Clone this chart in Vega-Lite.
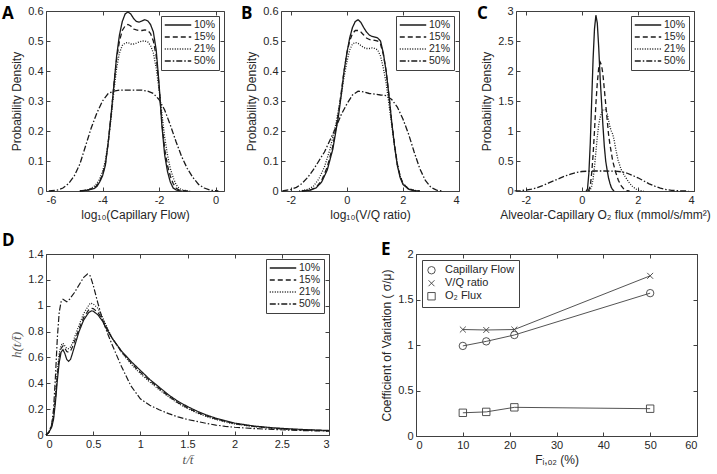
{
  "$schema": "https://vega.github.io/schema/vega-lite/v6.json",
  "background": "white",
  "padding": {"left": 1, "top": 4, "right": 0, "bottom": 0},
  "config": {
    "font": "Liberation Sans",
    "view": {"stroke": "#404040", "strokeWidth": 1},
    "axis": {"domain": false, "grid": false, "tickSize": -4, "tickColor": "#404040", "labelColor": "#262626", "labelFontSize": 11, "labelFont": "Liberation Sans", "titleFont": "Liberation Sans", "titleFontSize": 12, "titleFontWeight": "normal", "titleColor": "#262626", "labelPadding": 7, "labelExpr": "'' + datum.value"},
    "legend": {"title": null, "orient": "top-right", "offset": 5, "symbolType": "stroke", "symbolSize": 700, "symbolStrokeWidth": 1.3, "symbolStrokeColor": "#1a1a1a", "labelFontSize": 10.5, "labelColor": "#262626", "strokeColor": "#404040", "fillColor": "white", "padding": 3, "rowPadding": 0, "clipHeight": 12, "labelOffset": 2},
    "title": {"font": "Open Sans", "fontSize": 17, "fontWeight": "bold", "anchor": "start", "frame": "group", "color": "black", "offset": 0}
  },
  "datasets": {
    "A": [
      {"s":"10%","x":-4.8,"y":0},{"s":"10%","x":-4.5,"y":0.003},{"s":"10%","x":-4.3,"y":0.008},{"s":"10%","x":-4.2,"y":0.015},{"s":"10%","x":-4.1,"y":0.03},{"s":"10%","x":-4.0,"y":0.05},{"s":"10%","x":-3.9,"y":0.085},{"s":"10%","x":-3.8,"y":0.16},{"s":"10%","x":-3.7,"y":0.25},{"s":"10%","x":-3.6,"y":0.35},{"s":"10%","x":-3.5,"y":0.45},{"s":"10%","x":-3.4,"y":0.52},{"s":"10%","x":-3.3,"y":0.565},{"s":"10%","x":-3.2,"y":0.59},{"s":"10%","x":-3.1,"y":0.597},{"s":"10%","x":-3.0,"y":0.59},{"s":"10%","x":-2.9,"y":0.575},{"s":"10%","x":-2.8,"y":0.565},{"s":"10%","x":-2.7,"y":0.563},{"s":"10%","x":-2.6,"y":0.567},{"s":"10%","x":-2.5,"y":0.571},{"s":"10%","x":-2.4,"y":0.567},{"s":"10%","x":-2.3,"y":0.555},{"s":"10%","x":-2.2,"y":0.53},{"s":"10%","x":-2.1,"y":0.47},{"s":"10%","x":-2.0,"y":0.36},{"s":"10%","x":-1.9,"y":0.22},{"s":"10%","x":-1.8,"y":0.12},{"s":"10%","x":-1.7,"y":0.065},{"s":"10%","x":-1.6,"y":0.03},{"s":"10%","x":-1.5,"y":0.01},{"s":"10%","x":-1.4,"y":0.004},{"s":"10%","x":-1.3,"y":0.001},{"s":"10%","x":-1.2,"y":0},
      {"s":"15%","x":-4.8,"y":0},{"s":"15%","x":-4.5,"y":0.004},{"s":"15%","x":-4.3,"y":0.01},{"s":"15%","x":-4.2,"y":0.018},{"s":"15%","x":-4.1,"y":0.033},{"s":"15%","x":-4.0,"y":0.055},{"s":"15%","x":-3.9,"y":0.09},{"s":"15%","x":-3.8,"y":0.16},{"s":"15%","x":-3.7,"y":0.25},{"s":"15%","x":-3.6,"y":0.35},{"s":"15%","x":-3.5,"y":0.44},{"s":"15%","x":-3.4,"y":0.5},{"s":"15%","x":-3.3,"y":0.535},{"s":"15%","x":-3.2,"y":0.55},{"s":"15%","x":-3.1,"y":0.555},{"s":"15%","x":-3.0,"y":0.55},{"s":"15%","x":-2.9,"y":0.54},{"s":"15%","x":-2.8,"y":0.537},{"s":"15%","x":-2.7,"y":0.535},{"s":"15%","x":-2.6,"y":0.535},{"s":"15%","x":-2.5,"y":0.537},{"s":"15%","x":-2.4,"y":0.535},{"s":"15%","x":-2.3,"y":0.525},{"s":"15%","x":-2.2,"y":0.5},{"s":"15%","x":-2.1,"y":0.45},{"s":"15%","x":-2.0,"y":0.35},{"s":"15%","x":-1.9,"y":0.23},{"s":"15%","x":-1.8,"y":0.14},{"s":"15%","x":-1.7,"y":0.085},{"s":"15%","x":-1.6,"y":0.05},{"s":"15%","x":-1.5,"y":0.025},{"s":"15%","x":-1.4,"y":0.01},{"s":"15%","x":-1.3,"y":0.004},{"s":"15%","x":-1.2,"y":0.001},{"s":"15%","x":-1.0,"y":0},
      {"s":"21%","x":-4.8,"y":0},{"s":"21%","x":-4.5,"y":0.005},{"s":"21%","x":-4.3,"y":0.015},{"s":"21%","x":-4.2,"y":0.025},{"s":"21%","x":-4.1,"y":0.04},{"s":"21%","x":-4.0,"y":0.065},{"s":"21%","x":-3.9,"y":0.1},{"s":"21%","x":-3.8,"y":0.16},{"s":"21%","x":-3.7,"y":0.24},{"s":"21%","x":-3.6,"y":0.33},{"s":"21%","x":-3.5,"y":0.41},{"s":"21%","x":-3.4,"y":0.46},{"s":"21%","x":-3.3,"y":0.485},{"s":"21%","x":-3.2,"y":0.493},{"s":"21%","x":-3.1,"y":0.495},{"s":"21%","x":-3.0,"y":0.49},{"s":"21%","x":-2.9,"y":0.49},{"s":"21%","x":-2.8,"y":0.493},{"s":"21%","x":-2.7,"y":0.497},{"s":"21%","x":-2.6,"y":0.5},{"s":"21%","x":-2.5,"y":0.5},{"s":"21%","x":-2.4,"y":0.497},{"s":"21%","x":-2.3,"y":0.485},{"s":"21%","x":-2.2,"y":0.46},{"s":"21%","x":-2.1,"y":0.41},{"s":"21%","x":-2.0,"y":0.34},{"s":"21%","x":-1.9,"y":0.26},{"s":"21%","x":-1.8,"y":0.18},{"s":"21%","x":-1.7,"y":0.12},{"s":"21%","x":-1.6,"y":0.075},{"s":"21%","x":-1.5,"y":0.045},{"s":"21%","x":-1.4,"y":0.022},{"s":"21%","x":-1.3,"y":0.01},{"s":"21%","x":-1.2,"y":0.004},{"s":"21%","x":-1.0,"y":0.001},{"s":"21%","x":-0.9,"y":0},
      {"s":"50%","x":-5.9,"y":0},{"s":"50%","x":-5.6,"y":0.003},{"s":"50%","x":-5.4,"y":0.01},{"s":"50%","x":-5.2,"y":0.025},{"s":"50%","x":-5.0,"y":0.05},{"s":"50%","x":-4.8,"y":0.09},{"s":"50%","x":-4.6,"y":0.15},{"s":"50%","x":-4.4,"y":0.21},{"s":"50%","x":-4.2,"y":0.26},{"s":"50%","x":-4.0,"y":0.3},{"s":"50%","x":-3.8,"y":0.325},{"s":"50%","x":-3.6,"y":0.333},{"s":"50%","x":-3.4,"y":0.336},{"s":"50%","x":-3.0,"y":0.336},{"s":"50%","x":-2.6,"y":0.336},{"s":"50%","x":-2.4,"y":0.333},{"s":"50%","x":-2.2,"y":0.325},{"s":"50%","x":-2.0,"y":0.305},{"s":"50%","x":-1.8,"y":0.27},{"s":"50%","x":-1.6,"y":0.22},{"s":"50%","x":-1.4,"y":0.165},{"s":"50%","x":-1.2,"y":0.115},{"s":"50%","x":-1.0,"y":0.075},{"s":"50%","x":-0.8,"y":0.045},{"s":"50%","x":-0.6,"y":0.022},{"s":"50%","x":-0.4,"y":0.01},{"s":"50%","x":-0.2,"y":0.003},{"s":"50%","x":0.0,"y":0.001},{"s":"50%","x":0.1,"y":0}
    ],
    "B": [
      {"s":"10%","x":-1.6,"y":0},{"s":"10%","x":-1.3,"y":0.003},{"s":"10%","x":-1.1,"y":0.01},{"s":"10%","x":-0.9,"y":0.03},{"s":"10%","x":-0.7,"y":0.07},{"s":"10%","x":-0.5,"y":0.14},{"s":"10%","x":-0.3,"y":0.25},{"s":"10%","x":-0.2,"y":0.32},{"s":"10%","x":-0.1,"y":0.4},{"s":"10%","x":0.0,"y":0.46},{"s":"10%","x":0.1,"y":0.51},{"s":"10%","x":0.2,"y":0.545},{"s":"10%","x":0.3,"y":0.565},{"s":"10%","x":0.4,"y":0.571},{"s":"10%","x":0.5,"y":0.562},{"s":"10%","x":0.6,"y":0.545},{"s":"10%","x":0.7,"y":0.53},{"s":"10%","x":0.8,"y":0.52},{"s":"10%","x":0.9,"y":0.515},{"s":"10%","x":1.0,"y":0.513},{"s":"10%","x":1.1,"y":0.51},{"s":"10%","x":1.2,"y":0.5},{"s":"10%","x":1.3,"y":0.46},{"s":"10%","x":1.4,"y":0.4},{"s":"10%","x":1.5,"y":0.32},{"s":"10%","x":1.6,"y":0.23},{"s":"10%","x":1.7,"y":0.15},{"s":"10%","x":1.8,"y":0.085},{"s":"10%","x":1.9,"y":0.045},{"s":"10%","x":2.0,"y":0.022},{"s":"10%","x":2.2,"y":0.006},{"s":"10%","x":2.4,"y":0.001},{"s":"10%","x":2.6,"y":0},
      {"s":"15%","x":-1.6,"y":0},{"s":"15%","x":-1.3,"y":0.004},{"s":"15%","x":-1.1,"y":0.012},{"s":"15%","x":-0.9,"y":0.035},{"s":"15%","x":-0.7,"y":0.08},{"s":"15%","x":-0.5,"y":0.15},{"s":"15%","x":-0.3,"y":0.26},{"s":"15%","x":-0.2,"y":0.33},{"s":"15%","x":-0.1,"y":0.4},{"s":"15%","x":0.0,"y":0.46},{"s":"15%","x":0.1,"y":0.5},{"s":"15%","x":0.2,"y":0.525},{"s":"15%","x":0.3,"y":0.535},{"s":"15%","x":0.4,"y":0.535},{"s":"15%","x":0.5,"y":0.53},{"s":"15%","x":0.6,"y":0.52},{"s":"15%","x":0.7,"y":0.51},{"s":"15%","x":0.8,"y":0.505},{"s":"15%","x":0.9,"y":0.503},{"s":"15%","x":1.0,"y":0.502},{"s":"15%","x":1.1,"y":0.5},{"s":"15%","x":1.2,"y":0.49},{"s":"15%","x":1.3,"y":0.455},{"s":"15%","x":1.4,"y":0.4},{"s":"15%","x":1.5,"y":0.32},{"s":"15%","x":1.6,"y":0.23},{"s":"15%","x":1.7,"y":0.155},{"s":"15%","x":1.8,"y":0.09},{"s":"15%","x":1.9,"y":0.05},{"s":"15%","x":2.0,"y":0.025},{"s":"15%","x":2.2,"y":0.007},{"s":"15%","x":2.4,"y":0.002},{"s":"15%","x":2.6,"y":0},
      {"s":"21%","x":-1.7,"y":0},{"s":"21%","x":-1.4,"y":0.005},{"s":"21%","x":-1.2,"y":0.015},{"s":"21%","x":-1.0,"y":0.04},{"s":"21%","x":-0.8,"y":0.08},{"s":"21%","x":-0.6,"y":0.14},{"s":"21%","x":-0.4,"y":0.22},{"s":"21%","x":-0.2,"y":0.32},{"s":"21%","x":-0.1,"y":0.38},{"s":"21%","x":0.0,"y":0.43},{"s":"21%","x":0.1,"y":0.47},{"s":"21%","x":0.2,"y":0.49},{"s":"21%","x":0.3,"y":0.495},{"s":"21%","x":0.4,"y":0.492},{"s":"21%","x":0.5,"y":0.485},{"s":"21%","x":0.6,"y":0.478},{"s":"21%","x":0.7,"y":0.475},{"s":"21%","x":0.8,"y":0.475},{"s":"21%","x":0.9,"y":0.477},{"s":"21%","x":1.0,"y":0.475},{"s":"21%","x":1.1,"y":0.47},{"s":"21%","x":1.2,"y":0.45},{"s":"21%","x":1.3,"y":0.41},{"s":"21%","x":1.4,"y":0.36},{"s":"21%","x":1.5,"y":0.29},{"s":"21%","x":1.6,"y":0.22},{"s":"21%","x":1.7,"y":0.15},{"s":"21%","x":1.8,"y":0.09},{"s":"21%","x":1.9,"y":0.05},{"s":"21%","x":2.0,"y":0.025},{"s":"21%","x":2.2,"y":0.008},{"s":"21%","x":2.4,"y":0.002},{"s":"21%","x":2.6,"y":0},
      {"s":"50%","x":-2.3,"y":0},{"s":"50%","x":-2.0,"y":0.005},{"s":"50%","x":-1.8,"y":0.012},{"s":"50%","x":-1.6,"y":0.025},{"s":"50%","x":-1.4,"y":0.045},{"s":"50%","x":-1.2,"y":0.07},{"s":"50%","x":-1.0,"y":0.1},{"s":"50%","x":-0.8,"y":0.13},{"s":"50%","x":-0.6,"y":0.17},{"s":"50%","x":-0.4,"y":0.21},{"s":"50%","x":-0.2,"y":0.255},{"s":"50%","x":0.0,"y":0.29},{"s":"50%","x":0.2,"y":0.32},{"s":"50%","x":0.4,"y":0.333},{"s":"50%","x":0.6,"y":0.33},{"s":"50%","x":0.8,"y":0.325},{"s":"50%","x":1.0,"y":0.323},{"s":"50%","x":1.2,"y":0.32},{"s":"50%","x":1.4,"y":0.318},{"s":"50%","x":1.6,"y":0.305},{"s":"50%","x":1.8,"y":0.28},{"s":"50%","x":2.0,"y":0.24},{"s":"50%","x":2.2,"y":0.19},{"s":"50%","x":2.4,"y":0.13},{"s":"50%","x":2.6,"y":0.075},{"s":"50%","x":2.8,"y":0.035},{"s":"50%","x":3.0,"y":0.012},{"s":"50%","x":3.2,"y":0.003},{"s":"50%","x":3.4,"y":0}
    ],
    "C": [
      {"s":"10%","x":0.15,"y":0},{"s":"10%","x":0.2,"y":0.03},{"s":"10%","x":0.25,"y":0.3},{"s":"10%","x":0.3,"y":0.8},{"s":"10%","x":0.35,"y":1.5},{"s":"10%","x":0.4,"y":2.2},{"s":"10%","x":0.45,"y":2.7},{"s":"10%","x":0.5,"y":2.93},{"s":"10%","x":0.55,"y":2.8},{"s":"10%","x":0.6,"y":2.4},{"s":"10%","x":0.65,"y":1.9},{"s":"10%","x":0.7,"y":1.5},{"s":"10%","x":0.75,"y":1.1},{"s":"10%","x":0.8,"y":0.75},{"s":"10%","x":0.85,"y":0.5},{"s":"10%","x":0.9,"y":0.35},{"s":"10%","x":0.95,"y":0.22},{"s":"10%","x":1.0,"y":0.13},{"s":"10%","x":1.05,"y":0.06},{"s":"10%","x":1.1,"y":0.02},{"s":"10%","x":1.15,"y":0},
      {"s":"15%","x":0.2,"y":0},{"s":"15%","x":0.25,"y":0.02},{"s":"15%","x":0.3,"y":0.08},{"s":"15%","x":0.35,"y":0.3},{"s":"15%","x":0.4,"y":0.6},{"s":"15%","x":0.45,"y":1.0},{"s":"15%","x":0.5,"y":1.45},{"s":"15%","x":0.55,"y":1.8},{"s":"15%","x":0.6,"y":2.05},{"s":"15%","x":0.65,"y":2.15},{"s":"15%","x":0.7,"y":2.1},{"s":"15%","x":0.75,"y":1.95},{"s":"15%","x":0.8,"y":1.7},{"s":"15%","x":0.85,"y":1.45},{"s":"15%","x":0.9,"y":1.2},{"s":"15%","x":0.95,"y":0.95},{"s":"15%","x":1.0,"y":0.78},{"s":"15%","x":1.1,"y":0.5},{"s":"15%","x":1.2,"y":0.32},{"s":"15%","x":1.3,"y":0.18},{"s":"15%","x":1.4,"y":0.09},{"s":"15%","x":1.5,"y":0.03},{"s":"15%","x":1.6,"y":0.005},{"s":"15%","x":1.7,"y":0},
      {"s":"21%","x":0.25,"y":0},{"s":"21%","x":0.3,"y":0.02},{"s":"21%","x":0.35,"y":0.08},{"s":"21%","x":0.4,"y":0.2},{"s":"21%","x":0.45,"y":0.4},{"s":"21%","x":0.5,"y":0.65},{"s":"21%","x":0.55,"y":0.9},{"s":"21%","x":0.6,"y":1.1},{"s":"21%","x":0.65,"y":1.22},{"s":"21%","x":0.7,"y":1.3},{"s":"21%","x":0.75,"y":1.35},{"s":"21%","x":0.8,"y":1.36},{"s":"21%","x":0.85,"y":1.35},{"s":"21%","x":0.9,"y":1.3},{"s":"21%","x":0.95,"y":1.18},{"s":"21%","x":1.0,"y":1.07},{"s":"21%","x":1.05,"y":1.0},{"s":"21%","x":1.1,"y":0.95},{"s":"21%","x":1.15,"y":0.85},{"s":"21%","x":1.2,"y":0.72},{"s":"21%","x":1.25,"y":0.6},{"s":"21%","x":1.3,"y":0.5},{"s":"21%","x":1.4,"y":0.36},{"s":"21%","x":1.5,"y":0.27},{"s":"21%","x":1.6,"y":0.2},{"s":"21%","x":1.7,"y":0.13},{"s":"21%","x":1.8,"y":0.08},{"s":"21%","x":1.9,"y":0.04},{"s":"21%","x":2.0,"y":0.015},{"s":"21%","x":2.1,"y":0.004},{"s":"21%","x":2.2,"y":0},
      {"s":"50%","x":-2.4,"y":0.002},{"s":"50%","x":-2.2,"y":0.006},{"s":"50%","x":-2.0,"y":0.015},{"s":"50%","x":-1.8,"y":0.03},{"s":"50%","x":-1.6,"y":0.055},{"s":"50%","x":-1.4,"y":0.09},{"s":"50%","x":-1.2,"y":0.13},{"s":"50%","x":-1.0,"y":0.17},{"s":"50%","x":-0.8,"y":0.21},{"s":"50%","x":-0.6,"y":0.25},{"s":"50%","x":-0.4,"y":0.28},{"s":"50%","x":-0.2,"y":0.31},{"s":"50%","x":0.0,"y":0.325},{"s":"50%","x":0.2,"y":0.33},{"s":"50%","x":0.4,"y":0.333},{"s":"50%","x":0.6,"y":0.333},{"s":"50%","x":0.8,"y":0.333},{"s":"50%","x":1.0,"y":0.332},{"s":"50%","x":1.2,"y":0.33},{"s":"50%","x":1.4,"y":0.32},{"s":"50%","x":1.6,"y":0.3},{"s":"50%","x":1.8,"y":0.26},{"s":"50%","x":2.0,"y":0.22},{"s":"50%","x":2.2,"y":0.17},{"s":"50%","x":2.4,"y":0.12},{"s":"50%","x":2.6,"y":0.08},{"s":"50%","x":2.8,"y":0.048},{"s":"50%","x":3.0,"y":0.025},{"s":"50%","x":3.2,"y":0.012},{"s":"50%","x":3.4,"y":0.005},{"s":"50%","x":3.6,"y":0.002},{"s":"50%","x":3.8,"y":0}
    ],
    "D": [
      {"s":"10%","x":0,"y":0},{"s":"10%","x":0.03,"y":0.02},{"s":"10%","x":0.06,"y":0.06},{"s":"10%","x":0.08,"y":0.12},{"s":"10%","x":0.1,"y":0.25},{"s":"10%","x":0.12,"y":0.42},{"s":"10%","x":0.14,"y":0.56},{"s":"10%","x":0.16,"y":0.64},{"s":"10%","x":0.18,"y":0.66},{"s":"10%","x":0.2,"y":0.63},{"s":"10%","x":0.22,"y":0.585},{"s":"10%","x":0.24,"y":0.57},{"s":"10%","x":0.26,"y":0.585},{"s":"10%","x":0.28,"y":0.63},{"s":"10%","x":0.3,"y":0.68},{"s":"10%","x":0.35,"y":0.8},{"s":"10%","x":0.4,"y":0.89},{"s":"10%","x":0.45,"y":0.945},{"s":"10%","x":0.48,"y":0.96},{"s":"10%","x":0.5,"y":0.958},{"s":"10%","x":0.55,"y":0.93},{"s":"10%","x":0.6,"y":0.88},{"s":"10%","x":0.65,"y":0.81},{"s":"10%","x":0.7,"y":0.75},{"s":"10%","x":0.8,"y":0.65},{"s":"10%","x":0.9,"y":0.57},{"s":"10%","x":1.0,"y":0.5},{"s":"10%","x":1.1,"y":0.43},{"s":"10%","x":1.2,"y":0.37},{"s":"10%","x":1.3,"y":0.31},{"s":"10%","x":1.4,"y":0.26},{"s":"10%","x":1.5,"y":0.22},{"s":"10%","x":1.6,"y":0.185},{"s":"10%","x":1.7,"y":0.155},{"s":"10%","x":1.8,"y":0.13},{"s":"10%","x":1.9,"y":0.11},{"s":"10%","x":2.0,"y":0.092},{"s":"10%","x":2.2,"y":0.07},{"s":"10%","x":2.4,"y":0.056},{"s":"10%","x":2.6,"y":0.047},{"s":"10%","x":2.8,"y":0.04},{"s":"10%","x":3.0,"y":0.035},
      {"s":"15%","x":0,"y":0},{"s":"15%","x":0.03,"y":0.02},{"s":"15%","x":0.06,"y":0.07},{"s":"15%","x":0.08,"y":0.14},{"s":"15%","x":0.1,"y":0.28},{"s":"15%","x":0.12,"y":0.46},{"s":"15%","x":0.14,"y":0.6},{"s":"15%","x":0.16,"y":0.67},{"s":"15%","x":0.18,"y":0.69},{"s":"15%","x":0.2,"y":0.67},{"s":"15%","x":0.22,"y":0.645},{"s":"15%","x":0.24,"y":0.64},{"s":"15%","x":0.26,"y":0.65},{"s":"15%","x":0.28,"y":0.68},{"s":"15%","x":0.3,"y":0.72},{"s":"15%","x":0.35,"y":0.82},{"s":"15%","x":0.4,"y":0.91},{"s":"15%","x":0.45,"y":0.965},{"s":"15%","x":0.48,"y":0.98},{"s":"15%","x":0.5,"y":0.978},{"s":"15%","x":0.55,"y":0.95},{"s":"15%","x":0.6,"y":0.89},{"s":"15%","x":0.65,"y":0.82},{"s":"15%","x":0.7,"y":0.75},{"s":"15%","x":0.8,"y":0.645},{"s":"15%","x":0.9,"y":0.56},{"s":"15%","x":1.0,"y":0.485},{"s":"15%","x":1.1,"y":0.42},{"s":"15%","x":1.2,"y":0.36},{"s":"15%","x":1.3,"y":0.3},{"s":"15%","x":1.4,"y":0.25},{"s":"15%","x":1.5,"y":0.21},{"s":"15%","x":1.6,"y":0.175},{"s":"15%","x":1.7,"y":0.148},{"s":"15%","x":1.8,"y":0.125},{"s":"15%","x":1.9,"y":0.105},{"s":"15%","x":2.0,"y":0.088},{"s":"15%","x":2.2,"y":0.066},{"s":"15%","x":2.4,"y":0.053},{"s":"15%","x":2.6,"y":0.044},{"s":"15%","x":2.8,"y":0.038},{"s":"15%","x":3.0,"y":0.033},
      {"s":"21%","x":0,"y":0},{"s":"21%","x":0.03,"y":0.02},{"s":"21%","x":0.06,"y":0.08},{"s":"21%","x":0.08,"y":0.16},{"s":"21%","x":0.1,"y":0.31},{"s":"21%","x":0.12,"y":0.5},{"s":"21%","x":0.14,"y":0.63},{"s":"21%","x":0.16,"y":0.695},{"s":"21%","x":0.18,"y":0.71},{"s":"21%","x":0.2,"y":0.69},{"s":"21%","x":0.22,"y":0.67},{"s":"21%","x":0.24,"y":0.668},{"s":"21%","x":0.26,"y":0.68},{"s":"21%","x":0.28,"y":0.71},{"s":"21%","x":0.3,"y":0.75},{"s":"21%","x":0.35,"y":0.85},{"s":"21%","x":0.4,"y":0.94},{"s":"21%","x":0.45,"y":1.0},{"s":"21%","x":0.47,"y":1.02},{"s":"21%","x":0.5,"y":1.015},{"s":"21%","x":0.55,"y":0.98},{"s":"21%","x":0.6,"y":0.91},{"s":"21%","x":0.65,"y":0.83},{"s":"21%","x":0.7,"y":0.75},{"s":"21%","x":0.8,"y":0.64},{"s":"21%","x":0.9,"y":0.55},{"s":"21%","x":1.0,"y":0.475},{"s":"21%","x":1.1,"y":0.41},{"s":"21%","x":1.2,"y":0.35},{"s":"21%","x":1.3,"y":0.295},{"s":"21%","x":1.4,"y":0.245},{"s":"21%","x":1.5,"y":0.205},{"s":"21%","x":1.6,"y":0.17},{"s":"21%","x":1.7,"y":0.143},{"s":"21%","x":1.8,"y":0.12},{"s":"21%","x":1.9,"y":0.1},{"s":"21%","x":2.0,"y":0.085},{"s":"21%","x":2.2,"y":0.064},{"s":"21%","x":2.4,"y":0.051},{"s":"21%","x":2.6,"y":0.042},{"s":"21%","x":2.8,"y":0.036},{"s":"21%","x":3.0,"y":0.032},
      {"s":"50%","x":0,"y":0},{"s":"50%","x":0.03,"y":0.02},{"s":"50%","x":0.06,"y":0.08},{"s":"50%","x":0.08,"y":0.2},{"s":"50%","x":0.1,"y":0.45},{"s":"50%","x":0.12,"y":0.75},{"s":"50%","x":0.14,"y":0.95},{"s":"50%","x":0.16,"y":1.03},{"s":"50%","x":0.18,"y":1.05},{"s":"50%","x":0.2,"y":1.04},{"s":"50%","x":0.22,"y":1.03},{"s":"50%","x":0.25,"y":1.05},{"s":"50%","x":0.3,"y":1.1},{"s":"50%","x":0.35,"y":1.16},{"s":"50%","x":0.4,"y":1.22},{"s":"50%","x":0.44,"y":1.245},{"s":"50%","x":0.47,"y":1.23},{"s":"50%","x":0.5,"y":1.16},{"s":"50%","x":0.55,"y":1.02},{"s":"50%","x":0.6,"y":0.89},{"s":"50%","x":0.65,"y":0.79},{"s":"50%","x":0.7,"y":0.7},{"s":"50%","x":0.8,"y":0.53},{"s":"50%","x":0.9,"y":0.38},{"s":"50%","x":1.0,"y":0.28},{"s":"50%","x":1.1,"y":0.23},{"s":"50%","x":1.2,"y":0.195},{"s":"50%","x":1.3,"y":0.165},{"s":"50%","x":1.4,"y":0.14},{"s":"50%","x":1.5,"y":0.12},{"s":"50%","x":1.6,"y":0.105},{"s":"50%","x":1.7,"y":0.09},{"s":"50%","x":1.8,"y":0.077},{"s":"50%","x":1.9,"y":0.067},{"s":"50%","x":2.0,"y":0.06},{"s":"50%","x":2.2,"y":0.05},{"s":"50%","x":2.4,"y":0.043},{"s":"50%","x":2.6,"y":0.037},{"s":"50%","x":2.8,"y":0.033},{"s":"50%","x":3.0,"y":0.03}
    ],
    "E": [
      {"s":"Capillary Flow","x":10,"y":0.99},{"s":"Capillary Flow","x":15,"y":1.04},{"s":"Capillary Flow","x":21,"y":1.11},{"s":"Capillary Flow","x":50,"y":1.57},
      {"s":"V/Q ratio","x":10,"y":1.17},{"s":"V/Q ratio","x":15,"y":1.165},{"s":"V/Q ratio","x":21,"y":1.17},{"s":"V/Q ratio","x":50,"y":1.76},
      {"s":"O₂ Flux","x":10,"y":0.255},{"s":"O₂ Flux","x":15,"y":0.265},{"s":"O₂ Flux","x":21,"y":0.315},{"s":"O₂ Flux","x":50,"y":0.30}
    ]
  },
  "spacing": 10,
  "resolve": {"legend": {"strokeDash": "independent", "shape": "independent"}, "scale": {"strokeDash": "independent"}},
  "vconcat": [
    {
      "bounds": "flush",
      "spacing": 57,
      "resolve": {"legend": {"strokeDash": "independent"}, "scale": {"strokeDash": "independent"}},
      "hconcat": [
        {
          "width": 178, "height": 180,
          "title": {"text": "A", "dx": -44, "dy": 22},
          "data": {"name": "A"},
          "layer": [
            {"mark": {"type": "line", "color": "#1a1a1a", "strokeWidth": 1.3},
             "encoding": {
               "x": {"field": "x", "type": "quantitative", "scale": {"domain": [-6, 0.3], "nice": false, "zero": false}, "axis": {"values": [-6, -4, -2, 0], "title": "log₁₀(Capillary Flow)"}},
               "y": {"field": "y", "type": "quantitative", "scale": {"domain": [0, 0.6], "nice": false}, "axis": {"values": [0, 0.1, 0.2, 0.3, 0.4, 0.5, 0.6], "title": "Probability Density"}},
               "strokeDash": {"field": "s", "type": "nominal", "scale": {"domain": ["10%", "15%", "21%", "50%"], "range": [[1, 0], [5, 3], [1, 1.5], [6, 2, 1.5, 2]]}}
             }},
            {"mark": {"type": "point", "opacity": 0},
             "encoding": {
               "x": {"field": "x", "type": "quantitative", "axis": {"orient": "top", "values": [-6, -4, -2, 0], "labels": false, "title": null}},
               "y": {"field": "y", "type": "quantitative", "axis": {"orient": "right", "values": [0, 0.1, 0.2, 0.3, 0.4, 0.5, 0.6], "labels": false, "title": null}}
             }}
          ],
          "resolve": {"axis": {"x": "independent", "y": "independent"}}
        },
        {
          "width": 178, "height": 180,
          "title": {"text": "B", "dx": -40, "dy": 22},
          "data": {"name": "B"},
          "layer": [
            {"mark": {"type": "line", "color": "#1a1a1a", "strokeWidth": 1.3},
             "encoding": {
               "x": {"field": "x", "type": "quantitative", "scale": {"domain": [-2.35, 4], "nice": false, "zero": false}, "axis": {"values": [-2, 0, 2, 4], "title": "log₁₀(V/Q ratio)"}},
               "y": {"field": "y", "type": "quantitative", "scale": {"domain": [0, 0.6], "nice": false}, "axis": {"values": [0, 0.1, 0.2, 0.3, 0.4, 0.5, 0.6], "title": "Probability Density"}},
               "strokeDash": {"field": "s", "type": "nominal", "scale": {"domain": ["10%", "15%", "21%", "50%"], "range": [[1, 0], [5, 3], [1, 1.5], [6, 2, 1.5, 2]]}}
             }},
            {"mark": {"type": "point", "opacity": 0},
             "encoding": {
               "x": {"field": "x", "type": "quantitative", "axis": {"orient": "top", "values": [-2, 0, 2, 4], "labels": false, "title": null}},
               "y": {"field": "y", "type": "quantitative", "axis": {"orient": "right", "values": [0, 0.1, 0.2, 0.3, 0.4, 0.5, 0.6], "labels": false, "title": null}}
             }}
          ],
          "resolve": {"axis": {"x": "independent", "y": "independent"}}
        },
        {
          "width": 178, "height": 180,
          "title": {"text": "C", "dx": -39, "dy": 22},
          "data": {"name": "C"},
          "layer": [
            {"mark": {"type": "line", "color": "#1a1a1a", "strokeWidth": 1.3},
             "encoding": {
               "x": {"field": "x", "type": "quantitative", "scale": {"domain": [-2.35, 4], "nice": false, "zero": false}, "axis": {"values": [-2, 0, 2, 4], "title": "Alveolar-Capillary O₂ flux (mmol/s/mm²)"}},
               "y": {"field": "y", "type": "quantitative", "scale": {"domain": [0, 3], "nice": false}, "axis": {"values": [0, 0.5, 1, 1.5, 2, 2.5, 3], "title": "Probability Density"}},
               "strokeDash": {"field": "s", "type": "nominal", "scale": {"domain": ["10%", "15%", "21%", "50%"], "range": [[1, 0], [5, 3], [1, 1.5], [6, 2, 1.5, 2]]}}
             }},
            {"mark": {"type": "point", "opacity": 0},
             "encoding": {
               "x": {"field": "x", "type": "quantitative", "axis": {"orient": "top", "values": [-2, 0, 2, 4], "labels": false, "title": null}},
               "y": {"field": "y", "type": "quantitative", "axis": {"orient": "right", "values": [0, 0.5, 1, 1.5, 2, 2.5, 3], "labels": false, "title": null}}
             }}
          ],
          "resolve": {"axis": {"x": "independent", "y": "independent"}}
        }
      ]
    },
    {
      "bounds": "flush",
      "spacing": 87,
      "resolve": {"legend": {"strokeDash": "independent", "shape": "independent"}, "scale": {"strokeDash": "independent"}},
      "hconcat": [
        {
          "width": 283, "height": 181,
          "title": {"text": " D", "dx": -44, "dy": 6},
          "data": {"name": "D"},
          "layer": [
            {"mark": {"type": "line", "color": "#1a1a1a", "strokeWidth": 1.2},
             "encoding": {
               "x": {"field": "x", "type": "quantitative", "scale": {"domain": [0, 3], "nice": false}, "axis": {"values": [0, 0.5, 1, 1.5, 2, 2.5, 3], "title": "t/t̄", "titleFont": "Liberation Serif", "titleFontStyle": "italic", "titleFontSize": 13, "titleColor": "#555"}},
               "y": {"field": "y", "type": "quantitative", "scale": {"domain": [0, 1.4], "nice": false}, "axis": {"values": [0, 0.2, 0.4, 0.6, 0.8, 1, 1.2, 1.4], "title": "h(t/t̄)", "titleFont": "Liberation Serif", "titleFontStyle": "italic", "titleFontSize": 13, "titleColor": "#555"}},
               "strokeDash": {"field": "s", "type": "nominal", "scale": {"domain": ["10%", "15%", "21%", "50%"], "range": [[1, 0], [5, 3], [1, 1.5], [6, 2, 1.5, 2]]}}
             }},
            {"mark": {"type": "point", "opacity": 0},
             "encoding": {
               "x": {"field": "x", "type": "quantitative", "axis": {"orient": "top", "values": [0, 0.5, 1, 1.5, 2, 2.5, 3], "labels": false, "title": null}},
               "y": {"field": "y", "type": "quantitative", "axis": {"orient": "right", "values": [0, 0.2, 0.4, 0.6, 0.8, 1, 1.2, 1.4], "labels": false, "title": null}}
             }}
          ],
          "resolve": {"axis": {"x": "independent", "y": "independent"}}
        },
        {
          "width": 281, "height": 182,
          "title": {"text": "E", "dx": -35, "dy": 15},
          "data": {"name": "E"},
          "layer": [
            {"mark": {"type": "line", "color": "#404040", "strokeWidth": 0.9},
             "encoding": {
               "x": {"field": "x", "type": "quantitative", "scale": {"domain": [0, 60], "nice": false}, "axis": {"values": [0, 10, 20, 30, 40, 50, 60], "title": "Fᵢ,ₒ₂ (%)"}},
               "y": {"field": "y", "type": "quantitative", "scale": {"domain": [0, 2], "nice": false}, "axis": {"values": [0, 0.5, 1, 1.5, 2], "title": "Coefficient of Variation ( σ/μ)"}},
               "detail": {"field": "s", "type": "nominal"}
             }},
            {"mark": {"type": "point", "filled": false, "color": "#404040", "strokeWidth": 0.9, "size": 55, "opacity": 1},
             "encoding": {
               "x": {"field": "x", "type": "quantitative", "axis": null},
               "y": {"field": "y", "type": "quantitative", "axis": null},
               "shape": {"field": "s", "type": "nominal", "scale": {"domain": ["Capillary Flow", "V/Q ratio", "O₂ Flux"], "range": ["circle", "M-0.8,-0.8L0.8,0.8M0.8,-0.8L-0.8,0.8", "square"]},
                 "legend": {"orient": "top-left", "offset": 6, "symbolSize": 55, "symbolStrokeColor": "#404040", "symbolStrokeWidth": 0.9, "symbolFillColor": "transparent", "clipHeight": 12.5, "rowPadding": 0, "labelFontSize": 11, "labelOffset": 8, "padding": 4}}
             }},
            {"mark": {"type": "point", "opacity": 0},
             "encoding": {
               "x": {"field": "x", "type": "quantitative", "axis": {"orient": "top", "values": [0, 10, 20, 30, 40, 50, 60], "labels": false, "title": null}},
               "y": {"field": "y", "type": "quantitative", "axis": {"orient": "right", "values": [0, 0.5, 1, 1.5, 2], "labels": false, "title": null}}
             }}
          ],
          "resolve": {"axis": {"x": "independent", "y": "independent"}}
        }
      ]
    }
  ]
}
